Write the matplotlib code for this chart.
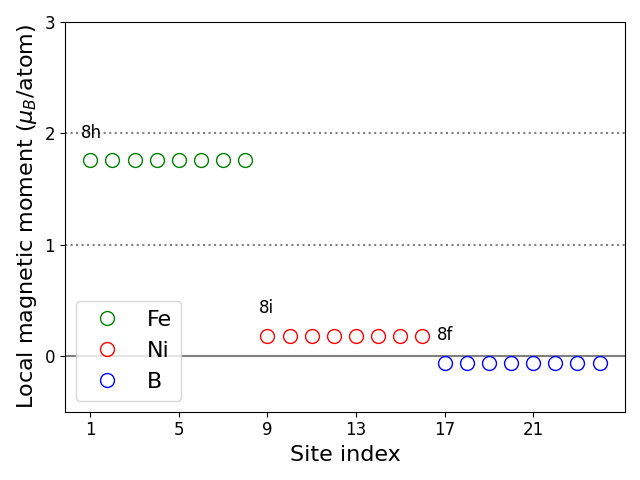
import matplotlib
matplotlib.use('Agg')
import matplotlib.pyplot as plt

# site indices and moments
fe_sites = [1, 2, 3, 4, 5, 6, 7, 8]
ni_sites = [9, 10, 11, 12, 13, 14, 15, 16]
b_sites = [17, 18, 19, 20, 21, 22, 23, 24]
fe_mom = [1.76] * 8
ni_mom = [0.18] * 8
b_mom = [-0.06] * 8

xticks = [1, 5, 9, 13, 17, 21]
yticks = [0, 1, 2, 3]

fig, ax = plt.subplots(figsize=(6.4, 4.8), dpi=100)

ax.axhline(0, color='gray', linewidth=1.5)
ax.axhline(1, color='gray', linestyle=':', linewidth=1.5)
ax.axhline(2, color='gray', linestyle=':', linewidth=1.5)

ax.plot(fe_sites, fe_mom, 'o', color='green', fillstyle='none', markersize=10, linestyle='none', label='Fe')
ax.plot(ni_sites, ni_mom, 'o', color='red', fillstyle='none', markersize=10, linestyle='none', label='Ni')
ax.plot(b_sites, b_mom, 'o', color='blue', fillstyle='none', markersize=10, linestyle='none', label='B')

ax.text(0.55, 2.0, '8h', fontsize=12, va='center')
ax.text(8.62, 0.43, '8i', fontsize=12, va='center')
ax.text(16.65, 0.19, '8f', fontsize=12, va='center')

ax.set_ylim(-0.5, 3)
ax.set_xticks(xticks)
ax.set_yticks(yticks)
ax.tick_params(labelsize=12)
ax.set_xlabel('Site index', fontsize=16)
ax.set_ylabel(r'Local magnetic moment ($\mu_B$/atom)', fontsize=16)
ax.legend(loc='lower left', fontsize=16)

fig.tight_layout()
fig.savefig('out.png', dpi=100)
